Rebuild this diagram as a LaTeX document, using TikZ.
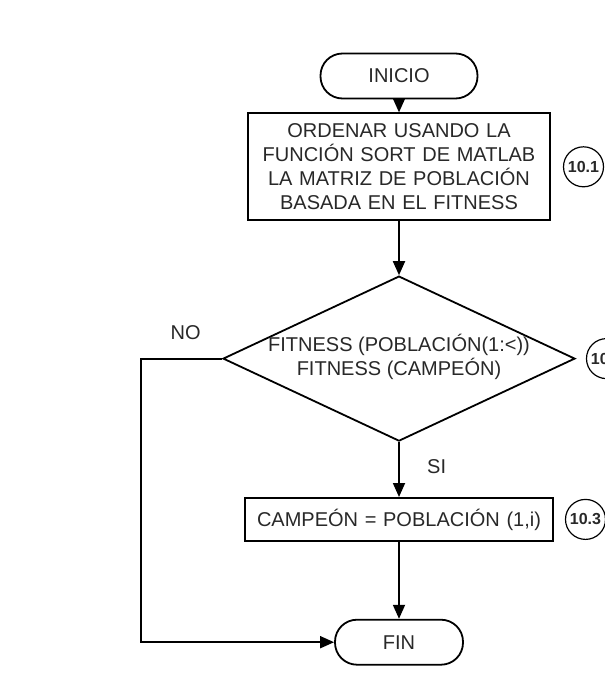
\documentclass[tikz,border=0pt]{standalone}
\usepackage{fontspec}
\setmainfont{Liberation Sans}
\usetikzlibrary{positioning,arrows.meta,shapes.geometric}
\definecolor{ink}{RGB}{40,40,40}

\begin{document}
\begin{tikzpicture}[x=1pt,y=-1pt,font=\fontsize{20}{24}\selectfont,text=ink,
  term/.style={rectangle,rounded corners=22pt,draw,line width=1.8pt,minimum height=45pt},
  proc/.style={rectangle,draw,line width=1.8pt,inner sep=4pt,align=center},
  dec/.style={diamond,draw,line width=1.8pt,inner sep=0pt,minimum width=352pt,minimum height=165pt},
  ref/.style={circle,draw,line width=1.2pt,minimum size=40pt,inner sep=0pt,font=\fontsize{16}{18}\selectfont\bfseries},
  ar/.style={-{Triangle[length=14pt,width=12pt]},line width=1.8pt}]
  \path[use as bounding box](0,0) rectangle (605,691);
  \clip(0,0) rectangle (605,691);
  \node[term,minimum width=157pt](inicio) at (399,76){INICIO};
  \node[proc,text width=294pt,minimum height=107pt,below=13pt of inicio](orden){ORDENAR USANDO LA\\FUNCIÓN SORT DE MATLAB\\LA MATRIZ DE POBLACIÓN\\BASADA EN EL FITNESS};
  \node[dec,below=54pt of orden](cond){};
  \node(condtxt) at (cond.center){\begin{tabular}{@{}c@{}}FITNESS (POBLACIÓN(1:<))\\FITNESS (CAMPEÓN)\end{tabular}};
  \node[proc,text width=300pt,minimum height=43pt,below=55pt of cond](camp){CAMPEÓN = POBLACIÓN (1,i)};
  \node[term,minimum width=128pt,below=77pt of camp](fin){FIN};
  \node[ref,right=12pt of orden](r1){10.1};
  \node[ref,right=10pt of cond](r2){10.2};
  \node[ref,right=11pt of camp](r3){10.3};
  \draw[ar](inicio)--(orden);
  \draw[ar](orden)--(cond);
  \draw[ar](cond)--node[right=24pt,pos=0.45]{SI}(camp);
  \draw[ar](camp)--(fin);
  \draw[ar](cond.west)--node[above=15pt,pos=0.45]{NO}++(-81,0)|-(fin.west);
\end{tikzpicture}
\end{document}
